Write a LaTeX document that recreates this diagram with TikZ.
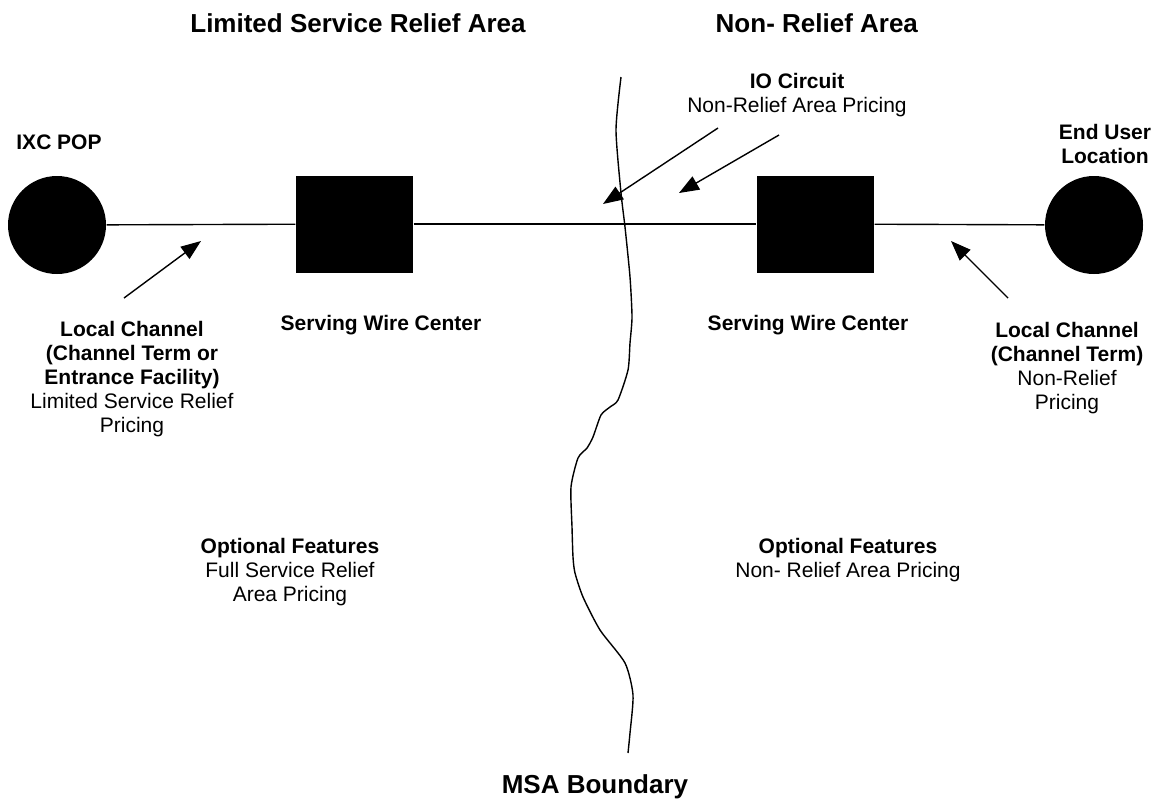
\documentclass[tikz,border=0pt]{standalone}
\usepackage{fontspec}
\setmainfont{Liberation Sans}
\usetikzlibrary{arrows.meta}

\begin{document}
\begin{tikzpicture}[x=0.5pt,y=-0.5pt,line width=0.7pt,
  site/.style={shape=circle,fill,minimum size=49pt,inner sep=0pt},
  wirectr/.style={shape=rectangle,fill,minimum width=58.5pt,minimum height=48.5pt,inner sep=0pt},
  lbl/.style={align=center,anchor=base,inner sep=0pt,font=\fontsize{10.5}{12}\selectfont},
  ttl/.style={anchor=base,inner sep=0pt,font=\fontsize{13}{15}\selectfont\bfseries},
  ptr/.style={-{Triangle[length=10pt,width=7.5pt]}}]
\useasboundingbox (0,0) rectangle (1155,804);

\node(pop) at (57,225)[site]        {};
\node(swcA) at (354.5,224)[wirectr] {};
\node(swcB) at (815.5,224)[wirectr] {};
\node(enduser) at (1094,225)[site]  {};

\path
  (pop)      edge     (swcA)
  (swcA)     edge     (swcB)
  (swcB)     edge     (enduser);

\draw plot[smooth,tension=0.4] coordinates {(621,77) (616,130) (621,193) (625,227)
  (630,277) (632,317) (630,343) (628,370) (618,400) (610,407) (601,415) (593,437)
  (587,448) (578,458) (571,487) (572,527) (573,557) (575,573) (583,597) (600,630)
  (625,663) (633,695) (630,733) (628,753)};

\node(ttlA) at (358,32)[ttl]                 {Limited Service Relief Area};
\node(ttlB) at (715,32)[ttl,anchor=base west] {Non- Relief Area};
\node(msa) at (595,793)[ttl]                 {MSA Boundary};

% multi-line labels sit on the baseline of their last line
\node(popLbl) at (59,149)[lbl]    {\textbf{IXC POP}};
\node(endLbl) at (1105,163)[lbl]  {\textbf{End User}\\\textbf{Location}};
\node(swcALbl) at (381,330)[lbl]  {\textbf{Serving Wire Center}};
\node(swcBLbl) at (808,330)[lbl]  {\textbf{Serving Wire Center}};
\node(ioLbl) at (797,112)[lbl]    {\textbf{IO Circuit}\\Non-Relief Area Pricing};
\node(lcALbl) at (132,432)[lbl]   {\textbf{Local Channel}\\\textbf{(Channel Term or}\\\textbf{Entrance Facility)}\\Limited Service Relief\\Pricing};
\node(lcBLbl) at (1067,409)[lbl]  {\textbf{Local Channel}\\\textbf{(Channel Term)}\\Non-Relief\\Pricing};
\node(optALbl) at (290,601)[lbl]  {\textbf{Optional Features}\\Full Service Relief\\Area Pricing};
\node(optBLbl) at (848,577)[lbl]  {\textbf{Optional Features}\\Non- Relief Area Pricing};

\coordinate(lcAtail) at (124,298);
\coordinate(lcAtip) at (201,241);
\coordinate(lcBtail) at (1008,298);
\coordinate(lcBtip) at (951,241);
\coordinate(ioAtail) at (718,128);
\coordinate(ioAtip) at (603,204);
\coordinate(ioBtail) at (779,135);
\coordinate(ioBtip) at (679,193);

\path [ptr]
  (lcAtail)  edge     (lcAtip)
  (lcBtail)  edge     (lcBtip)
  (ioAtail)  edge     (ioAtip)
  (ioBtail)  edge     (ioBtip);

\end{tikzpicture}
\end{document}
